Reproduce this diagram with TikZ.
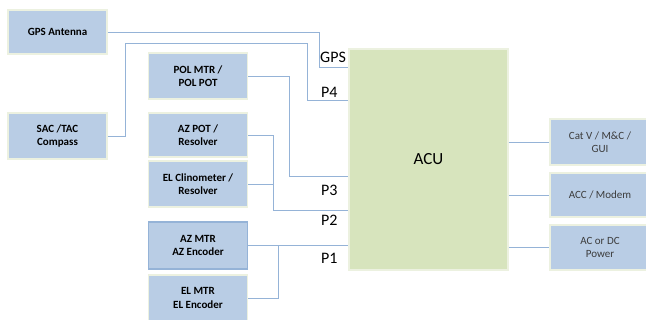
\documentclass[tikz,border=0pt]{standalone}
\usepackage{fontspec}
\setmainfont{Carlito}
\usetikzlibrary{positioning,calc}
\definecolor{BoxBlue}{RGB}{185,205,229}
\definecolor{WireBlue}{RGB}{149,179,215}
\definecolor{AcuGreen}{RGB}{215,228,189}
\definecolor{BoxEdge}{RGB}{236,241,224}
\definecolor{SideText}{RGB}{60,60,60}

\begin{document}
\begin{tikzpicture}[x=1pt, y=-1pt, every node/.style={align=center, inner sep=0pt},
  unit/.style={draw=BoxEdge, line width=1.2pt, fill=BoxBlue, minimum width=99pt, font=\fontsize{11}{13.3}\selectfont\bfseries},
  side/.style={unit, font=\fontsize{11}{13.3}\selectfont, text=SideText, minimum width=100pt},
  port/.style={font=\fontsize{16}{18}\selectfont, anchor=west},
  wire/.style={draw=WireBlue, line width=0.8pt}]
  \clip (0,0) rectangle (646,320);

  % units on the left
  \node[unit, minimum height=44pt] (gps) at (57.5,32) {GPS Antenna};
  \node[unit, minimum height=46pt] (sac) at (57.5,136) {SAC /TAC\\Compass};
  \node[unit, minimum height=46pt] (pol) at (198,76) {POL MTR /\\POL POT};
  \node[unit, minimum height=44pt] (azpot) at (198,135) {AZ POT /\\Resolver};
  \node[unit, minimum height=46pt] (elclin) at (198,184) {EL Clinometer /\\Resolver};
  \node[unit, draw=WireBlue, minimum height=47pt] (azmtr) at (198,245.5) {AZ MTR\\AZ Encoder};
  \node[unit, minimum height=46pt] (elmtr) at (198,298) {EL MTR\\EL Encoder};

  % controller
  \node[fill=AcuGreen, draw=BoxEdge, line width=1.2pt, minimum width=159pt, minimum height=221pt, font=\fontsize{17}{20}\selectfont] (acu) at (428.5,159.5) {ACU};

  % units on the right
  \node[side, minimum height=46pt] (catv) at (600,142) {Cat V / M\&C /\\GUI};
  \node[side, minimum height=44pt] (acc) at (600,195) {ACC / Modem};
  \node[side, minimum height=45pt] (pwr) at (600,247.5) {AC or DC\\Power};

  % port labels
  \node[port] (lgps) at (320,57.5) {GPS};
  \node[port] (lp4) at (321,92) {P4};
  \node[port] (lp3) at (321,190) {P3};
  \node[port] (lp2) at (321,220) {P2};
  \node[port] (lp1) at (321,258) {P1};

  % wiring
  \coordinate (jgps) at (319,67);
  \coordinate (jsac) at (125,43);
  \coordinate (jsacb) at (307,100);
  \coordinate (jpol) at (289,176);
  \coordinate (jpot) at (273,210);
  \coordinate (jmtr) at (278,245.5);
  \draw[wire] (gps.east) -| (jgps) -- (jgps -| acu.west);
  \draw[wire] (sac.east) -| (jsac) -| (jsacb) -- (jsacb -| acu.west);
  \draw[wire] (pol.east) -| (jpol) -- (jpol -| acu.west);
  \draw[wire] (azpot.east) -| (jpot) -- (jpot -| acu.west);
  \draw[wire] (elclin.east) -- (elclin.east -| jpot);
  \draw[wire] (azmtr.east) -- (azmtr.east -| acu.west);
  \draw[wire] (elmtr.east) -| (jmtr);
  \draw[wire] (acu.east |- catv.west) -- (catv.west);
  \draw[wire] (acu.east |- acc.west) -- (acc.west);
  \draw[wire] (acu.east |- pwr.west) -- (pwr.west);
\end{tikzpicture}
\end{document}
